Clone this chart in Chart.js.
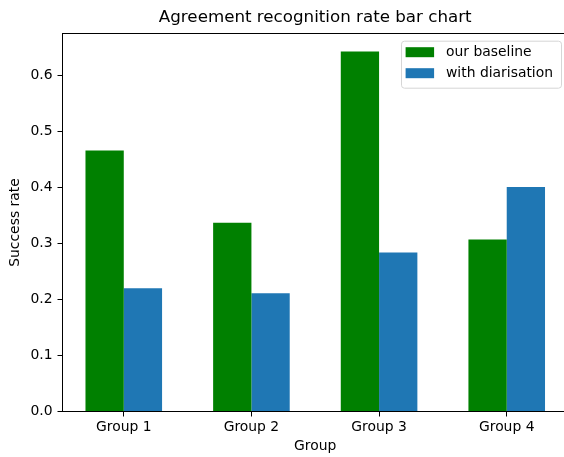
<!DOCTYPE html>
<html lang="en">
<head>
    <meta charset="UTF-8">
    <title>Agreement recognition rate</title>
    <script src="https://cdn.jsdelivr.net/npm/chart.js"></script>
    <style>
      body { margin: 0; background: #fff; }
      .wrap { width: 564px; height: 457px; overflow: hidden; }
    </style>
</head>
<body>
    <div class="wrap">
      <canvas id="bargraph" width="572" height="457"></canvas>
    </div>

    <script>
      // values
      var groups = ['Group 1', 'Group 2', 'Group 3', 'Group 4'];
      var baseline = [0.466, 0.337, 0.643, 0.307];
      var diarisation = [0.220, 0.211, 0.284, 0.401];
      var yTicks = [0.0, 0.1, 0.2, 0.3, 0.4, 0.5, 0.6];

      var fontFamily = "'DejaVu Sans', sans-serif";
      Chart.defaults.font.family = fontFamily;
      Chart.defaults.font.size = 13.9;
      Chart.defaults.color = '#000';

      function points(arr) {
        return arr.map(function (v, i) { return { x: i, y: v }; });
      }

      // frame, title and legend in matplotlib style
      var decor = {
        id: 'decor',
        afterDraw: function (chart) {
          var c = chart.ctx, a = chart.chartArea;
          c.save();
          c.strokeStyle = '#000';
          c.lineWidth = 1;
          c.strokeRect(a.left, a.top, a.right - a.left, a.bottom - a.top);

          c.fillStyle = '#000';
          c.font = '16.7px ' + fontFamily;
          c.textAlign = 'center';
          c.textBaseline = 'alphabetic';
          c.fillText('Agreement recognition rate bar chart', (a.left + a.right) / 2, 21.5);

          c.font = '13.9px ' + fontFamily;
          var ds = chart.data.datasets;
          var tw = 0;
          ds.forEach(function (d) { tw = Math.max(tw, c.measureText(d.label).width); });
          var right = a.right - 7, top = a.top + 7.2;
          var w = tw + 53, h = 47;
          var left = right - w;
          c.beginPath();
          c.roundRect(left + 0.5, top + 0.5, w, h, 3);
          c.fillStyle = 'rgba(255,255,255,0.8)';
          c.fill();
          c.strokeStyle = '#d6d6d6';
          c.stroke();
          c.textAlign = 'left';
          c.textBaseline = 'middle';
          ds.forEach(function (d, i) {
            var cy = top + 11.5 + i * 21;
            c.fillStyle = d.backgroundColor;
            c.fillRect(left + 4.6, cy - 5, 28.5, 10);
            c.fillStyle = '#000';
            c.fillText(d.label, left + 45, cy);
          });
          c.restore();
        }
      };

      var ctx = document.getElementById('bargraph');

      var barGraph = new Chart(ctx, {
        type: 'bar',
        data: {
          datasets: [
            { label: 'our baseline', data: points(baseline), backgroundColor: '#008000' },
            { label: 'with diarisation', data: points(diarisation), backgroundColor: '#1f77b4' }
          ]
        },
        options: {
          responsive: false,
          animation: false,
          layout: { padding: { top: 33.5, right: 4, left: 0, bottom: 0 } },
          categoryPercentage: 0.6,
          barPercentage: 1.0,
          plugins: {
            legend: { display: false },
            title: { display: false },
            tooltip: { enabled: false }
          },
          scales: {
            x: {
              type: 'linear',
              min: -0.48,
              max: 3.48,
              offset: false,
              border: { display: false },
              grid: { offset: false, drawOnChartArea: false, drawTicks: true, tickLength: 5, color: '#000' },
              afterBuildTicks: function (scale) {
                scale.ticks = groups.map(function (g, i) { return { value: i }; });
              },
              ticks: {
                padding: 3,
                maxRotation: 0,
                callback: function (v) { return groups[v]; }
              },
              title: { display: true, text: 'Group', padding: { top: 0, bottom: 2 } },
              afterFit: function (scale) { scale.height = 45.5; }
            },
            y: {
              min: 0,
              max: 0.675,
              border: { display: false },
              grid: { drawOnChartArea: false, drawTicks: true, tickLength: 5, color: '#000' },
              afterBuildTicks: function (scale) {
                scale.ticks = yTicks.map(function (v) { return { value: v }; });
              },
              ticks: {
                padding: 5,
                callback: function (v) { return v.toFixed(1); }
              },
              title: { display: true, text: 'Success rate', padding: { top: 7, bottom: 0 } },
              afterFit: function (scale) { scale.width = 62.5; }
            }
          }
        },
        plugins: [decor]
      });
    </script>
</body>
</html>
